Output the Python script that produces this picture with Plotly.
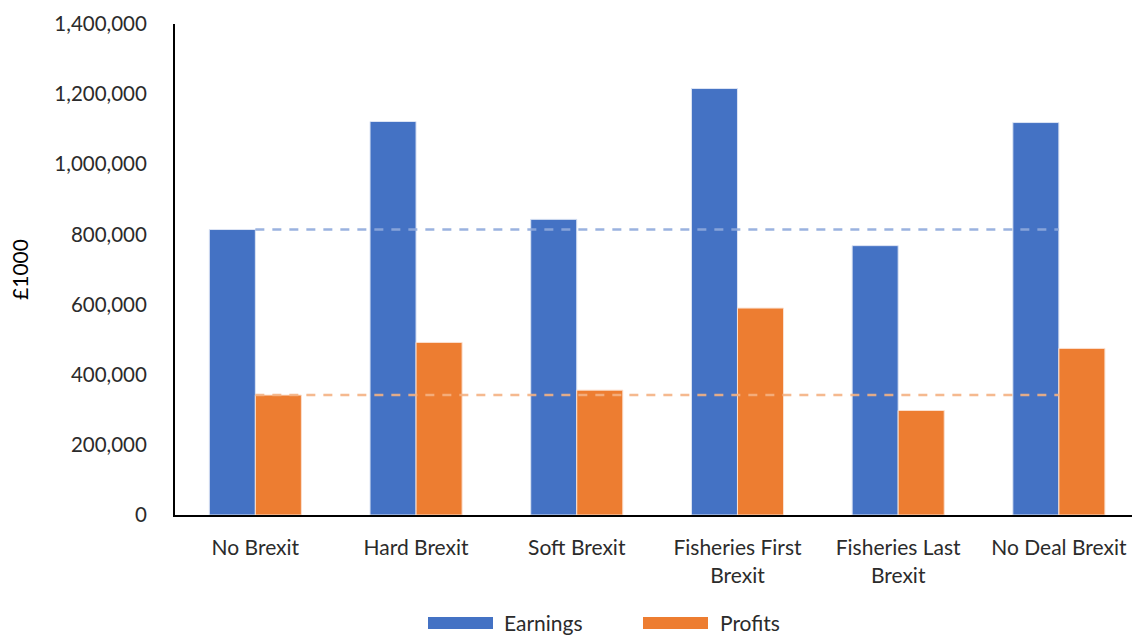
import plotly.graph_objects as go

# Scenario data (£1000)
scenarios = ["No Brexit", "Hard Brexit", "Soft Brexit",
             "Fisheries First<br>Brexit", "Fisheries Last<br>Brexit", "No Deal Brexit"]
earnings = [814000, 1122000, 843000, 1216000, 768000, 1119000]
profits = [342000, 492000, 356000, 590000, 298000, 475000]
y_ticks = [0, 200000, 400000, 600000, 800000, 1000000, 1200000, 1400000]

BLUE = "#4472C4"
ORANGE = "#ED7D31"
TEXT = "#2b2b2b"
FONT = "Lato, Carlito, Calibri, sans-serif"

# Baselines: the No Brexit levels carried across every scenario
earn_base = [earnings[0]] * len(scenarios)
prof_base = [profits[0]] * len(scenarios)

fig = go.Figure()
fig.add_trace(go.Bar(x=scenarios, y=earnings, name="Earnings",
                     marker=dict(color=BLUE, line=dict(color="#DCE4F4", width=1))))
fig.add_trace(go.Bar(x=scenarios, y=profits, name="Profits",
                     marker=dict(color=ORANGE, line=dict(color="#FBE0CF", width=1))))
fig.add_trace(go.Scatter(x=scenarios, y=earn_base, mode="lines", showlegend=False,
                         line=dict(color="rgba(143,170,220,0.9)", width=2.5, dash="9px,8px")))
fig.add_trace(go.Scatter(x=scenarios, y=prof_base, mode="lines", showlegend=False,
                         line=dict(color="rgba(244,177,131,0.9)", width=2.5, dash="9px,8px")))

W, H = 1132, 635
ML, MR, MT, MB = 175, 0, 24, 120

# Hand-built legend with wide colour swatches
legend_items = [("Earnings", BLUE, 428, 502), ("Profits", ORANGE, 643, 718)]
shapes, annotations = [], []
for label, col, sx, tx in legend_items:
    shapes.append(dict(type="rect", xref="paper", yref="paper",
                       x0=(sx - ML) / (W - ML - MR), x1=(sx + 65 - ML) / (W - ML - MR),
                       y0=(H - MB - 629) / (H - MT - MB), y1=(H - MB - 617) / (H - MT - MB),
                       fillcolor=col, line=dict(width=0)))
    annotations.append(dict(text=label, xref="paper", yref="paper",
                            x=(tx - ML) / (W - ML - MR), y=(H - MB - 622) / (H - MT - MB),
                            xanchor="left", yanchor="middle", showarrow=False,
                            font=dict(family=FONT, size=21, color=TEXT)))

fig.update_layout(
    width=W, height=H,
    margin=dict(l=ML, r=MR, t=MT, b=MB),
    paper_bgcolor="white", plot_bgcolor="white",
    barmode="group", bargap=0.427, bargroupgap=0,
    showlegend=False,
    shapes=shapes, annotations=annotations,
    font=dict(family=FONT, color=TEXT),
)
fig.update_xaxes(
    range=[-0.5, 5.455], showline=True, linecolor="black", linewidth=2,
    showgrid=False, ticks="", tickfont=dict(size=21, color=TEXT),
    ticklabelstandoff=13,
)
fig.update_yaxes(
    range=[0, 1400000], tickvals=y_ticks, tickformat=",d",
    showline=True, linecolor="black", linewidth=2, showgrid=False, zeroline=False,
    ticks="", tickfont=dict(size=20.5, color=TEXT), ticklabelstandoff=22,
    title=dict(text="£1000", font=dict(size=21, color="black"), standoff=20),
)

fig.write_html("out.html")
